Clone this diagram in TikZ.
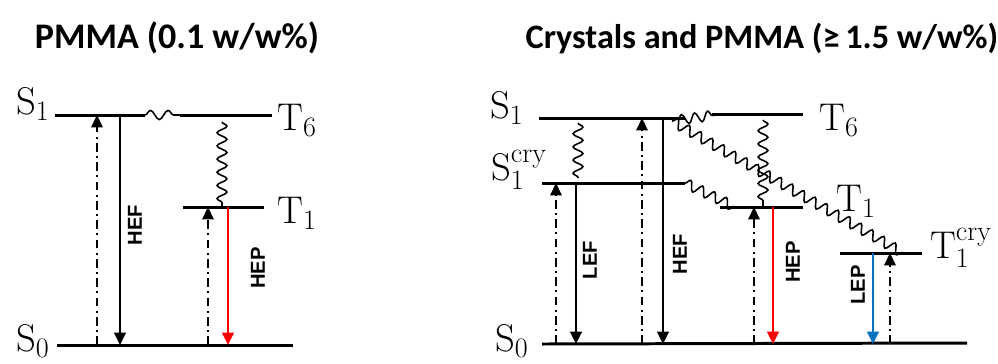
\documentclass[tikz,border=0pt]{standalone}
\usepackage{fontspec}
\usepackage{tikz}
\usetikzlibrary{arrows.meta,positioning,calc,decorations.pathmorphing}
\newfontfamily\titlefont{Carlito}
\newfontfamily\tagfont{Liberation Sans}
\newcommand{\idx}[1]{\hbox{\fontsize{16}{16}\selectfont #1}}
\definecolor{hepred}{RGB}{255,0,0}
\definecolor{lepblue}{RGB}{0,112,192}
\tikzset{
  level/.style={line width=1.7pt},
  emit/.style={line width=1.6pt,-{Triangle[length=7pt,width=6.5pt]}},
  excite/.style={line width=0.9pt,dash pattern=on 5pt off 2.5pt on 1pt off 2.5pt,
    -{Triangle[length=7pt,width=6.5pt]}},
  isc/.style={line width=0.9pt,decorate,
    decoration={snake,amplitude=2.8pt,segment length=7.5pt}},
  statelab/.style={font=\fontsize{22}{26}\selectfont},
  tag/.style={font=\tagfont\bfseries\fontsize{11.5}{12}\selectfont,rotate=90},
  headline/.style={font=\titlefont\bfseries\fontsize{20.5}{24}\selectfont}
}
\begin{document}
\begin{tikzpicture}[x=0.02cm,y=-0.02cm]
\useasboundingbox (0,0) rectangle (998,363);
% titles
\node[headline] (ttlA) at (177,38) {PMMA (0.1 w/w\%)};
\node[headline,font=\titlefont\bfseries\fontsize{19.5}{24}\selectfont] (ttlB) at (762,38) {Crystals and PMMA (≥\,1.5 w/w\%)};

% ---- PMMA only
\coordinate (aS1w) at (55,115);  \coordinate (aS1e) at (145,115);
\coordinate (aT6w) at (180,115); \coordinate (aT6e) at (272,115);
\coordinate (aT1w) at (183,207); \coordinate (aT1e) at (264,207);
\coordinate (aS0w) at (57,345);  \coordinate (aS0e) at (293,345);
\draw[level] (aS1w) -- (aS1e);
\draw[level] (aT6w) -- (aT6e);
\draw[level] (aT1w) -- (aT1e);
\draw[level] (aS0w) -- (aS0e);
\node[statelab] (aS1) at (33,104) {$\mathrm{S}_{\idx{1}}$};
\node[statelab] (aT6) at (297,121) {$\mathrm{T}_{\idx{6}}$};
\node[statelab] (aT1) at (297,213) {$\mathrm{T}_{\idx{1}}$};
\node[statelab] (aS0) at (33,341) {$\mathrm{S}_{\idx{0}}$};
\draw[isc,decoration={segment length=10pt,amplitude=2.6pt}] (aS1e) -- (aT6w);
\draw[isc] (222,122) -- (222,0 |- aT1w);
\draw[excite] (97,0 |- aS0w) -- (97,0 |- aS1w);
\draw[emit] (120,0 |- aS1w) -- (120,0 |- aS0w);
\draw[excite] (208,0 |- aS0w) -- (208,0 |- aT1w);
\draw[emit,hepred] (228,0 |- aT1w) -- (228,0 |- aS0w);
\node[tag] (aHEF) at (135,225) {HEF};
\node[tag] (aHEP) at (258,268) {HEP};

% ---- crystals and PMMA
\coordinate (bS1w) at (539,118);  \coordinate (bS1e) at (685,118);
\coordinate (bT6w) at (712,114);  \coordinate (bT6e) at (803,114);
\coordinate (bS1cw) at (542,183); \coordinate (bS1ce) at (685,183);
\coordinate (bT1w) at (720,207);  \coordinate (bT1e) at (803,207);
\coordinate (bT1cw) at (840,253); \coordinate (bT1ce) at (922,253);
\coordinate (bS0w) at (542,344);  \coordinate (bS0e) at (967,343);
\draw[level] (bS1w) -- (bS1e);
\draw[level] (bT6w) -- (bT6e);
\draw[level] (bS1cw) -- (bS1ce);
\draw[level] (bT1w) -- (bT1e);
\draw[level] (bT1cw) -- (bT1ce);
\draw[level] (bS0w) -- (bS0e);
\node[statelab] (bS1) at (507,108) {$\mathrm{S}_{\idx{1}}$};
\node[statelab] (bT6) at (839,121) {$\mathrm{T}_{\idx{6}}$};
\node[statelab] (bS1c) at (519,170) {$\mathrm{S}_{\idx{1}}^{\idx{cry}}$};
\node[statelab] (bT1) at (856,201) {$\mathrm{T}_{\idx{1}}$};
\node[statelab] (bT1c) at (961,248) {$\mathrm{T}_{\idx{1}}^{\idx{cry}}$};
\node[statelab] (bS0) at (512,341) {$\mathrm{S}_{\idx{0}}$};
\draw[isc] (578,123) -- (578,178);
\draw[isc] (763,120) -- (763,0 |- bT1w);
\draw[isc] (678,120) -- (716,115);
\draw[isc] (672,121) -- (903,253);
\draw[isc] (bS1ce) -- (735,207);
\draw[excite] (556,0 |- bS0w) -- (556,0 |- bS1cw);
\draw[emit] (576,0 |- bS1cw) -- (576,0 |- bS0w);
\draw[excite] (642,0 |- bS0w) -- (642,0 |- bS1w);
\draw[emit] (663,0 |- bS1w) -- (663,0 |- bS0w);
\draw[excite] (754,0 |- bS0w) -- (754,0 |- bT1w);
\draw[emit,hepred] (773,0 |- bT1w) -- (773,0 |- bS0w);
\draw[emit,lepblue] (873,0 |- bT1cw) -- (873,0 |- bS0w);
\draw[excite] (890,0 |- bS0w) -- (890,0 |- bT1cw);
\node[tag] (bLEF) at (590,260) {LEF};
\node[tag] (bHEF) at (680,254) {HEF};
\node[tag] (bHEP) at (793,262) {HEP};
\node[tag] (bLEP) at (858,285) {LEP};
\end{tikzpicture}
\end{document}
